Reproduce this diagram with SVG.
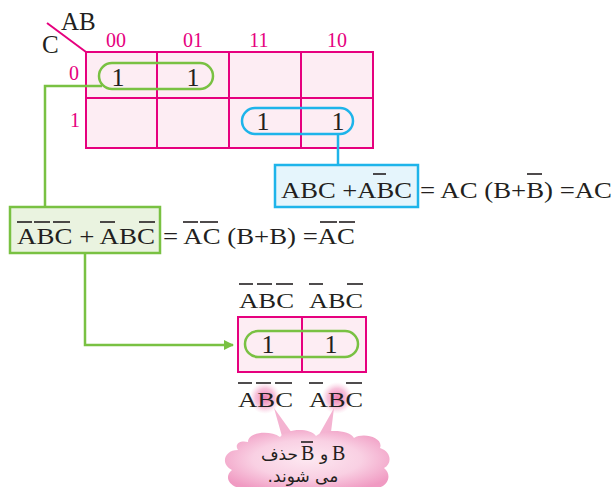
<svg xmlns="http://www.w3.org/2000/svg" width="613" height="487" viewBox="0 0 613 487">
<style>
.t{font-family:"Liberation Serif","DejaVu Serif",serif;fill:#231f20}
.pk{font-family:"Liberation Serif","DejaVu Serif",serif;fill:#e6007e;font-size:20px}
.grid{fill:#fdedf3;stroke:#e6007e;stroke-width:2}
.gl{stroke:#e6007e;stroke-width:2}
.ov{stroke:#231f20;stroke-width:1.6}
.g{stroke:#79c142;fill:none;stroke-width:2.5}
.b{stroke:#1eb4ea;fill:none;stroke-width:2.5}
.fa{font-family:"DejaVu Sans","Noto Sans",sans-serif;fill:#231f20;font-size:17px}
</style>
<defs>
<marker id="ag" markerWidth="10" markerHeight="10" refX="9" refY="5" orient="auto" markerUnits="userSpaceOnUse"><path d="M0,0 L10,5 L0,10 z" fill="#79c142"/></marker>
<radialGradient id="glow"><stop offset="0" stop-color="#ec6fa8" stop-opacity="0.9"/><stop offset="0.6" stop-color="#f29cc4" stop-opacity="0.6"/><stop offset="1" stop-color="#f8c8dd" stop-opacity="0"/></radialGradient>
<radialGradient id="cl" cx="0.5" cy="0.5" r="0.6"><stop offset="0" stop-color="#fde8f1"/><stop offset="0.55" stop-color="#f9d0e3"/><stop offset="1" stop-color="#f09ac2"/></radialGradient>
</defs>

<g id="kmap">
<rect class="grid" x="86" y="52" width="287" height="96"/>
<line class="gl" x1="157" y1="52" x2="157" y2="148"/>
<line class="gl" x1="229" y1="52" x2="229" y2="148"/>
<line class="gl" x1="301" y1="52" x2="301" y2="148"/>
<line class="gl" x1="86" y1="98" x2="373" y2="98"/>
<line class="gl" x1="47" y1="23" x2="86" y2="52"/>
<text class="t" x="61" y="30" font-size="25">AB</text>
<text class="t" x="42" y="53" font-size="25">C</text>
<text class="pk" x="116" y="47" text-anchor="middle">00</text>
<text class="pk" x="193" y="47" text-anchor="middle">01</text>
<text class="pk" x="259" y="47" text-anchor="middle">11</text>
<text class="pk" x="337" y="47" text-anchor="middle">10</text>
<text class="pk" x="74" y="80" text-anchor="middle">0</text>
<text class="pk" x="75" y="127" text-anchor="middle">1</text>
<text class="t" x="118" y="86" font-size="26" text-anchor="middle">1</text>
<text class="t" x="193" y="86" font-size="26" text-anchor="middle">1</text>
<text class="t" x="263" y="130" font-size="26" text-anchor="middle">1</text>
<text class="t" x="338" y="130" font-size="26" text-anchor="middle">1</text>
<rect class="g" x="99" y="63" width="114" height="26" rx="13"/>
<rect class="b" x="242" y="108" width="111" height="26" rx="13"/>
</g>

<g id="connectors">
<polyline class="g" points="102,86 45,86 45,208"/>
<polyline class="b" points="338,134 338,165"/>
<polyline class="g" points="85,253 85,345 233,345" marker-end="url(#ag)"/>
<polygon points="274,408 283,440 297,440" fill="#f4b3d1"/>
<polygon points="334,408 316,440 330,440" fill="#f4b3d1"/>
</g>

<g id="blue-eq">
<rect x="275" y="165" width="143" height="42" fill="#e5f5fc" stroke="#1eb4ea" stroke-width="2.5"/>
<text class="t" x="281" y="198" font-size="24" textLength="131" lengthAdjust="spacingAndGlyphs">ABC +ABC</text>
<text class="t" x="420" y="198" font-size="24" textLength="192" lengthAdjust="spacingAndGlyphs">= AC (B+B) =AC</text>
<line class="ov" x1="373" y1="174" x2="386" y2="174"/>
<line class="ov" x1="527" y1="174" x2="542" y2="174"/>
</g>

<g id="green-eq">
<rect x="10" y="207" width="150" height="46" fill="#eaf3e0" stroke="#79c142" stroke-width="2.5"/>
<text class="t" x="17" y="244" font-size="24" textLength="138" lengthAdjust="spacingAndGlyphs">ABC + ABC</text>
<text class="t" x="163" y="244" font-size="24" textLength="192" lengthAdjust="spacingAndGlyphs">= AC (B+B) =AC</text>
<line class="ov" x1="17" y1="222" x2="32" y2="222"/>
<line class="ov" x1="34" y1="222" x2="50" y2="222"/>
<line class="ov" x1="53" y1="222" x2="70" y2="222"/>
<line class="ov" x1="100" y1="222" x2="115" y2="222"/>
<line class="ov" x1="139" y1="222" x2="155" y2="222"/>
<line class="ov" x1="183" y1="222" x2="198" y2="222"/>
<line class="ov" x1="200" y1="222" x2="218" y2="222"/>
<line class="ov" x1="320" y1="222" x2="337" y2="222"/>
<line class="ov" x1="339" y1="222" x2="355" y2="222"/>
</g>

<g id="small-map">
<text class="t" x="239" y="308" font-size="22" textLength="55" lengthAdjust="spacingAndGlyphs">ABC</text>
<text class="t" x="309" y="308" font-size="22" textLength="54" lengthAdjust="spacingAndGlyphs">ABC</text>
<line class="ov" x1="239" y1="284" x2="253" y2="284"/>
<line class="ov" x1="257" y1="284" x2="272" y2="284"/>
<line class="ov" x1="276" y1="284" x2="293" y2="284"/>
<line class="ov" x1="309" y1="284" x2="323" y2="284"/>
<line class="ov" x1="347" y1="284" x2="363" y2="284"/>
<rect class="grid" x="238" y="317" width="128" height="55"/>
<line class="gl" x1="302" y1="317" x2="302" y2="372"/>
<text class="t" x="268" y="353" font-size="26" text-anchor="middle">1</text>
<text class="t" x="331" y="353" font-size="26" text-anchor="middle">1</text>
<rect class="g" x="245" y="331" width="113" height="26" rx="13"/>
</g>

<g id="bottom-labels">
<circle cx="265" cy="398" r="16" fill="url(#glow)"/>
<circle cx="337" cy="398" r="16" fill="url(#glow)"/>
<text class="t" x="238" y="407" font-size="22" textLength="55" lengthAdjust="spacingAndGlyphs">ABC</text>
<text class="t" x="309" y="407" font-size="22" textLength="54" lengthAdjust="spacingAndGlyphs">ABC</text>
<line class="ov" x1="238" y1="383" x2="252" y2="383"/>
<line class="ov" x1="256" y1="383" x2="271" y2="383"/>
<line class="ov" x1="275" y1="383" x2="292" y2="383"/>
<line class="ov" x1="309" y1="383" x2="323" y2="383"/>
<line class="ov" x1="346" y1="383" x2="362" y2="383"/>
</g>

<g id="cloud">
<path d="M248,442 C248,432 270,430 280,437 C288,428 310,428 316,436 C326,428 350,430 354,438 C364,432 384,438 380,448 C392,452 392,464 384,468 C394,476 386,490 372,488 L246,488 C232,490 222,478 232,470 C220,464 224,450 238,450 C234,444 240,440 248,442 Z" fill="url(#cl)"/>
<text class="fa" x="298" y="460" text-anchor="end">حذف</text>
<text class="t" x="301" y="460" font-size="20">B</text>
<line class="ov" x1="301" y1="442" x2="313" y2="442"/>
<text class="fa" x="324" y="460" text-anchor="middle">و</text>
<text class="t" x="332" y="460" font-size="20">B</text>
<text class="fa" x="303" y="482" text-anchor="middle" direction="rtl">می شوند.</text>
</g>
</svg>
